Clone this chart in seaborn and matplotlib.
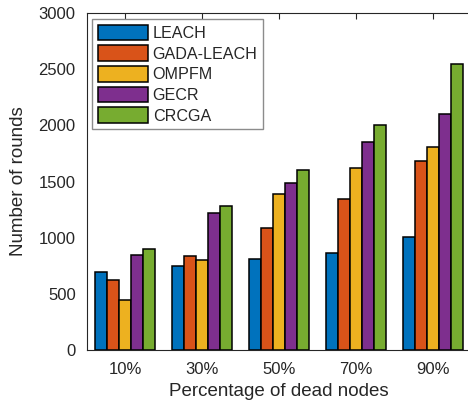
import matplotlib
matplotlib.use("Agg")
import matplotlib.pyplot as plt
import seaborn as sns
import pandas as pd

categories = ["10%", "30%", "50%", "70%", "90%"]
methods = ["LEACH", "GADA-LEACH", "OMPFM", "GECR", "CRCGA"]
leach = [690, 750, 810, 860, 1005]
gada_leach = [620, 835, 1090, 1345, 1680]
ompfm = [445, 800, 1390, 1620, 1805]
gecr = [845, 1220, 1485, 1855, 2100]
crcga = [895, 1280, 1605, 2005, 2545]
yticks = [0, 500, 1000, 1500, 2000, 2500, 3000]

colors = ["#0072BD", "#D95319", "#EDB120", "#7E2F8E", "#77AC30"]

rows = []
for name, vals in zip(methods, [leach, gada_leach, ompfm, gecr, crcga]):
    for cat, v in zip(categories, vals):
        rows.append({"Percentage": cat, "Method": name, "Rounds": v})
df = pd.DataFrame(rows)

sns.set_style("white")
plt.rcParams["font.family"] = ["Liberation Sans", "DejaVu Sans"]
dark = "#262626"

fig = plt.figure(figsize=(4.68, 4.01), dpi=100)
W, H = 468, 401
# the plot box runs a little past the right edge of the canvas
ax = fig.add_axes([86.8 / W, 51 / H, 385 / W, 337 / H])

sns.barplot(data=df, x="Percentage", y="Rounds", hue="Method",
            order=categories, hue_order=methods, palette=colors,
            width=0.78, edgecolor="black", linewidth=1.1,
            saturation=1, errorbar=None, ax=ax)

ax.set_xlim(-0.5, 4.5)
ax.set_ylim(0, 3000)
ax.set_yticks(yticks)
ax.set_yticklabels([str(t) for t in yticks])
ax.set_xlabel("Percentage of dead nodes", fontsize=13.5, color=dark, labelpad=4)
ax.set_ylabel("Number of rounds", fontsize=13.5, color=dark, labelpad=8)
ax.tick_params(axis="both", direction="in", labelsize=12, colors=dark,
               length=4, width=0.8, top=True, right=False)
ax.tick_params(axis="x", pad=9)
ax.tick_params(axis="y", pad=8)
for s in ax.spines.values():
    s.set_color(dark)
    s.set_linewidth(0.8)
ax.spines["right"].set_visible(False)

leg = ax.legend(loc="upper left", bbox_to_anchor=(0.0143, 0.982),
                borderaxespad=0, fontsize=11.6, handlelength=3.1,
                handleheight=1.12, handletextpad=0.3, labelspacing=0.27,
                borderpad=0.35, fancybox=False, framealpha=1)
leg.get_frame().set_edgecolor("#8c8c8c")
leg.get_frame().set_linewidth(1.0)
for t in leg.get_texts():
    t.set_color(dark)
for p in leg.get_patches():
    p.set_edgecolor("black")
    p.set_linewidth(1.1)

fig.savefig("out.png", dpi=100)
